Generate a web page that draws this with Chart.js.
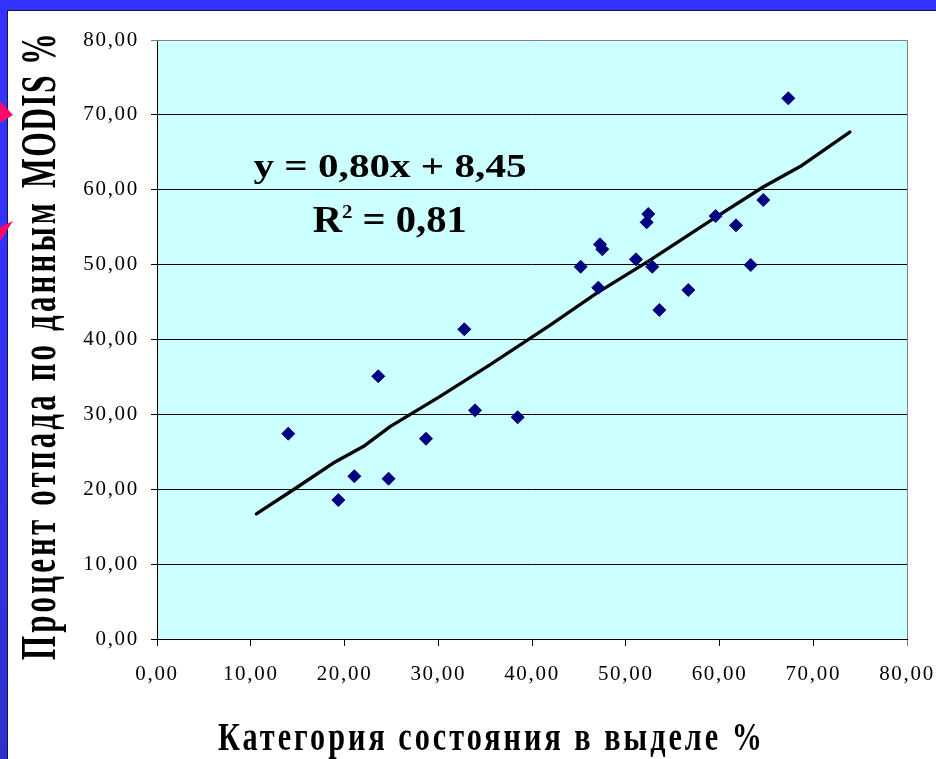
<!DOCTYPE html>
<html>
<head>
<meta charset="utf-8">
<script src="https://cdn.jsdelivr.net/npm/chart.js@4.4.1/dist/chart.umd.min.js"></script>
<style>
html,body{margin:0;padding:0;width:936px;height:759px;overflow:hidden;}
body{background:linear-gradient(to bottom,#3333ff 0%,#3333f4 45%,#3030cc 100%);position:relative;}
#panel{position:absolute;left:7px;top:10px;width:929px;height:749px;background:#fff;border-left:1px solid #14144a;border-top:1px solid #14144a;box-sizing:border-box;}
#chart{display:block;}
.arrow{position:absolute;left:0;width:13px;background:#ff0a6a;z-index:5;}
#a1{top:101px;height:22px;clip-path:polygon(0 0,100% 64%,0 100%);}
#a2{top:221px;height:20px;clip-path:polygon(0 30%,100% 0,0 100%);}
</style>
</head>
<body>
<div id="panel"><canvas id="chart" width="928" height="748"></canvas></div>
<div class="arrow" id="a1"></div>
<div class="arrow" id="a2"></div>
<script>
// ---- data ----
const xValues = [14.0,19.34,21.05,23.6,24.7,28.69,32.78,33.92,38.47,45.19,47.07,47.25,47.5,51.09,52.23,52.4,52.83,53.58,56.67,59.59,61.76,63.33,64.67,67.34];
const yValues = [27.42,18.56,21.73,35.09,21.41,26.75,41.36,30.54,29.61,49.72,46.92,52.71,52.05,50.71,55.65,56.76,49.72,43.94,46.61,56.49,55.25,49.95,58.63,72.21];
const trendX = [10.6,14.5,18.8,22.0,24.9,30.2,35.5,41.9,46.9,52.6,59.7,64.7,68.6,73.9];
const trendY = [16.7,19.9,23.5,25.7,28.4,32.4,36.6,41.9,46.2,50.6,56.4,60.4,63.1,67.7];
const xTickLabels = ['0,00','10,00','20,00','30,00','40,00','50,00','60,00','70,00','80,00'];
const yTickLabels = ['0,00','10,00','20,00','30,00','40,00','50,00','60,00','70,00','80,00'];
const xTitle = 'Категория состояния в выделе %';
const yTitleParts = ['Процент отпада по данным', 'MODIS %'];
const eqLine1 = 'y = 0,80x + 8,45';
const eqLine2 = ['R', '2', ' = 0,81'];

const SERIF = '"Liberation Serif","Times New Roman",serif';

function drawFit(ctx, segs, cx, cy, targetW, spacing, rot) {
  ctx.save();
  ctx.letterSpacing = spacing || '0px';
  ctx.textAlign = 'left';
  ctx.textBaseline = 'alphabetic';
  ctx.fillStyle = '#000';
  let w = 0; const ws = [];
  segs.forEach(s => { ctx.font = s.font; const m = ctx.measureText(s.text).width; ws.push(m); w += m; });
  const k = targetW / w;
  ctx.translate(cx, cy);
  if (rot) ctx.rotate(rot);
  ctx.scale(k, 1);
  let x = -w / 2;
  segs.forEach((s, i) => { ctx.font = s.font; ctx.fillText(s.text, x, s.dy || 0); x += ws[i]; });
  ctx.restore();
}

const decor = {
  id: 'decor',
  beforeDraw(chart) {
    const {ctx, chartArea: a} = chart;
    ctx.save();
    ctx.fillStyle = '#ccffff';
    ctx.fillRect(a.left, a.top, a.right - a.left, a.bottom - a.top);
    ctx.restore();
    ctx.letterSpacing = '1.7px';
  },
  beforeDatasetsDraw(chart) {
    const {ctx, chartArea: a} = chart;
    ctx.save();
    ctx.strokeStyle = '#808080';
    ctx.lineWidth = 1;
    ctx.beginPath();
    ctx.moveTo(a.left, Math.round(a.top) + 0.5);
    ctx.lineTo(Math.round(a.right) + 0.5, Math.round(a.top) + 0.5);
    ctx.lineTo(Math.round(a.right) + 0.5, a.bottom);
    ctx.stroke();
    ctx.restore();
  },
  afterDraw(chart) {
    const ctx = chart.ctx;
    ctx.letterSpacing = '0px';
    drawFit(ctx, [{text: eqLine1, font: 'bold 33px ' + SERIF}], 382, 165.7, 273, '0px');
    drawFit(ctx, [
      {text: eqLine2[0], font: 'bold 37px ' + SERIF},
      {text: eqLine2[1], font: 'bold 19px ' + SERIF, dy: -13.5},
      {text: eqLine2[2], font: 'bold 37px ' + SERIF}
    ], 381.7, 220.7, 154, '0px');
    drawFit(ctx, [{text: xTitle, font: 'bold 40px ' + SERIF}], 483.5, 739, 547, '4px');
    // y title (rotated), canvas coords: baseline x=47
    drawFit(ctx, [{text: yTitleParts[0], font: 'bold 50px ' + SERIF}], 47, 419, 460, '5px', -Math.PI / 2);
    drawFit(ctx, [{text: yTitleParts[1], font: 'bold 50px ' + SERIF}], 47, 99, 156, '2px', -Math.PI / 2);
  }
};

new Chart(document.getElementById('chart').getContext('2d'), {
  type: 'scatter',
  data: {
    datasets: [
      {
        label: 'points',
        data: xValues.map((x, i) => ({x: x, y: yValues[i]})),
        pointStyle: 'rectRot',
        pointRadius: 6.5,
        pointHoverRadius: 6.5,
        backgroundColor: '#000080',
        borderColor: '#000080',
        borderWidth: 1,
        order: 1
      },
      {
        label: 'trend',
        data: trendX.map((x, i) => ({x: x, y: trendY[i]})),
        showLine: true,
        pointRadius: 0,
        pointHoverRadius: 0,
        borderColor: '#000000',
        borderWidth: 3.3,
        borderCapStyle: 'round',
        borderJoinStyle: 'round',
        fill: false,
        tension: 0,
        order: 2
      }
    ]
  },
  options: {
    responsive: false,
    animation: false,
    devicePixelRatio: 1,
    events: [],
    layout: {padding: {left: 0, right: 29, top: 29, bottom: 0}},
    plugins: {legend: {display: false}, tooltip: {enabled: false}, title: {display: false}},
    scales: {
      x: {
        type: 'linear', min: 0, max: 80,
        ticks: {
          stepSize: 10, autoSkip: false, maxRotation: 0,
          callback: v => xTickLabels[Math.round(v / 10)],
          font: {family: SERIF, size: 21}, color: '#000', padding: 16
        },
        grid: {
          drawOnChartArea: false, drawTicks: true, tickLength: 7, lineWidth: 1,
          color: c => (c.tick && c.tick.value === 80) ? '#808080' : '#000000'
        },
        border: {display: true, color: '#000000', width: 1},
        afterFit: s => { s.height = 120; s.paddingLeft = 0; s.paddingRight = 0; }
      },
      y: {
        type: 'linear', min: 0, max: 80,
        ticks: {
          stepSize: 10, autoSkip: false,
          callback: v => yTickLabels[Math.round(v / 10)],
          font: {family: SERIF, size: 21}, color: '#000', padding: 12
        },
        grid: {
          drawOnChartArea: true, drawTicks: true, tickLength: 6, lineWidth: 1,
          color: c => (c.tick && c.tick.value === 80) ? '#808080' : '#000000'
        },
        border: {display: true, color: '#000000', width: 1},
        afterFit: s => { s.width = 149; s.paddingTop = 0; s.paddingBottom = 0; }
      }
    }
  },
  plugins: [decor]
});
</script>
</body>
</html>
